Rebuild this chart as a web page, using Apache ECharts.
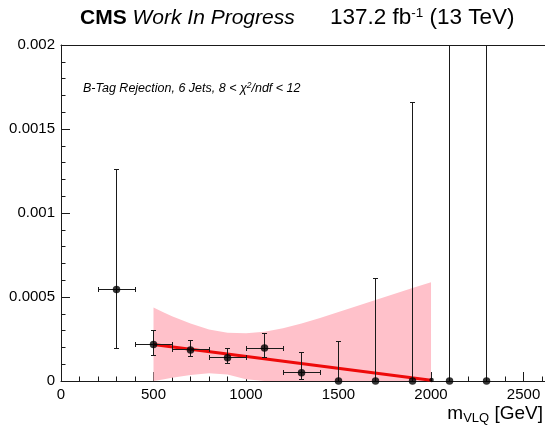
<!DOCTYPE html>
<html>
<head>
<meta charset="utf-8">
<script src="https://cdn.jsdelivr.net/npm/echarts@6/dist/echarts.min.js"></script>
<style>
html, body { margin: 0; padding: 0; background: #fff; }
#chart { width: 545px; height: 427px; }
</style>
</head>
<body>
<div id="chart"></div>
<script>
// Binned measurement: bin centre, value, horizontal half-width, lower/upper error bounds
const binCenters   = [300, 500, 700, 900, 1100, 1300, 1500, 1700, 1900, 2100, 2300];
const binValues    = [0.000544, 0.000217, 0.000185, 0.000138, 0.000196, 0.000049, 0, 0, 0, 0, 0];
const binHalfWidth = [100, 100, 100, 100, 100, 100, 0, 0, 0, 0, 0];
const errLow       = [0.000191, 0.000152, 0.000144, 0.000102, 0.000141, 0.000009, 0, 0, 0, 0, 0];
const errHigh      = [0.001257, 0.000302, 0.000243, 0.000193, 0.000282, 0.000168, 0.000233, 0.000613, 0.001655, 0.0035, 0.0035];

// Small marker sitting at the end of the fit range
const edgeX = [2003];
const edgeY = [0.000006];

// Linear fit
const fitX = [500, 2000];
const fitY = [0.000217, 0.000005];

// Fit uncertainty band
const bandX     = [500, 550, 600, 700, 800, 900, 1000, 1100, 1200, 1300, 1400, 1500, 1600, 1700, 1800, 1900, 2000];
const bandUpper = [0.000437, 0.000410, 0.000386, 0.000342, 0.000306, 0.000287, 0.000284, 0.000293, 0.000314,
                   0.000343, 0.000375, 0.000410, 0.000446, 0.000482, 0.000518, 0.000553, 0.000588];
const bandLower = [0, 0.000009, 0.000020, 0.000036, 0.000046, 0.000038, 0.000011, 0, 0,
                   0, 0, 0, 0, 0, 0, 0, 0];

// Axis ticks and labels
const xTicks = [0, 500, 1000, 1500, 2000, 2500];
const yTicks = [0, 0.0005, 0.001, 0.0015, 0.002];
const yTickLabels = ['0', '0.0005', '0.001', '0.0015', '0.002'];

const X_MAX = 2616;
const FONT = '"Liberation Sans", Arial, Helvetica, sans-serif';
const INK = '#1a1a1a';

const chart = echarts.init(document.getElementById('chart'), null, { renderer: 'canvas' });

function px(v) { return Math.round(v - 0.5) + 0.5; }

function line(x1, y1, x2, y2) {
  return {
    type: 'line',
    shape: { x1: x1, y1: y1, x2: x2, y2: y2 },
    style: { stroke: INK, lineWidth: 1 }
  };
}

const option = {
  animation: false,
  backgroundColor: '#fff',
  grid: { left: 61, right: 0, top: 45, bottom: 46, containLabel: false },
  xAxis: [
    {
      type: 'value', min: 0, max: X_MAX, interval: 500, position: 'bottom',
      axisLine: { show: true, onZero: false, lineStyle: { color: INK, width: 1 } },
      axisTick: { show: true, inside: true, length: 9, lineStyle: { color: INK } },
      axisLabel: {
        show: true, margin: 6, color: '#000', fontSize: 15, fontFamily: FONT,
        showMaxLabel: false,
        formatter: function (v) { return xTicks.indexOf(v) >= 0 ? String(v) : ''; }
      },
      splitLine: { show: false }
    },
    {
      // minor ticks every 100 GeV
      type: 'value', min: 0, max: X_MAX, interval: 100, position: 'bottom',
      axisLine: { show: false },
      axisTick: { show: true, inside: true, length: 4.5, lineStyle: { color: INK } },
      axisLabel: { show: false },
      splitLine: { show: false }
    },
    {
      // upper frame line
      type: 'value', min: 0, max: X_MAX, position: 'top',
      axisLine: { show: true, onZero: false, lineStyle: { color: INK, width: 1 } },
      axisTick: { show: false }, axisLabel: { show: false }, splitLine: { show: false }
    }
  ],
  yAxis: {
    type: 'value', min: 0, max: 0.002, interval: 0.0005,
    axisLine: { show: true, onZero: false, lineStyle: { color: INK, width: 1 } },
    axisTick: { show: true, inside: true, length: 9, lineStyle: { color: INK } },
    minorTick: { show: true, splitNumber: 5, length: 4.5, lineStyle: { color: INK } },
    axisLabel: {
      margin: 6, color: '#000', fontSize: 15, fontFamily: FONT,
      formatter: function (v) {
        for (let i = 0; i < yTicks.length; i++) {
          if (Math.abs(v - yTicks[i]) < 1e-9) return yTickLabels[i];
        }
        return '';
      }
    },
    splitLine: { show: false },
    minorSplitLine: { show: false }
  },
  series: [
    {
      // uncertainty band as one polygon
      type: 'custom',
      clip: true,
      z: 1,
      data: bandX.map(function (x, i) { return [x, bandLower[i], bandUpper[i]]; }),
      renderItem: function (params, api) {
        if (params.dataIndex !== 0) return null;
        const pts = [];
        for (let i = 0; i < bandX.length; i++) pts.push(api.coord([bandX[i], bandUpper[i]]));
        for (let i = bandX.length - 1; i >= 0; i--) pts.push(api.coord([bandX[i], bandLower[i]]));
        return {
          type: 'polygon',
          shape: { points: pts },
          style: { fill: '#ffc1ca', stroke: null }
        };
      }
    },
    {
      type: 'line',
      z: 2,
      data: fitX.map(function (x, i) { return [x, fitY[i]]; }),
      symbol: 'none',
      lineStyle: { color: '#ee0a0a', width: 3 },
      clip: true
    },
    {
      // error bars with end caps
      type: 'custom',
      clip: true,
      z: 3,
      data: binCenters.map(function (x, i) {
        return [x, binValues[i], binHalfWidth[i], errLow[i], errHigh[i]];
      }),
      renderItem: function (params, api) {
        const x = api.value(0), y = api.value(1), hw = api.value(2);
        const lo = api.value(3), hi = api.value(4);
        const c = api.coord([x, y]);
        const pLo = api.coord([x, lo]);
        const pHi = api.coord([x, hi]);
        const cx = px(c[0]), cy = px(c[1]);
        const cap = 2.5;
        const kids = [];
        kids.push(line(cx, pLo[1], cx, pHi[1]));
        kids.push(line(cx - cap, px(pHi[1]), cx + cap, px(pHi[1])));
        if (lo < y) kids.push(line(cx - cap, px(pLo[1]), cx + cap, px(pLo[1])));
        if (hw > 0) {
          const l = api.coord([x - hw, y])[0];
          const r = api.coord([x + hw, y])[0];
          kids.push(line(l, cy, r, cy));
          kids.push(line(px(l), cy - cap, px(l), cy + cap));
          kids.push(line(px(r), cy - cap, px(r), cy + cap));
        }
        return { type: 'group', children: kids };
      }
    },
    {
      type: 'scatter',
      z: 4,
      clip: false,
      symbol: 'circle',
      symbolSize: 7.5,
      itemStyle: { color: '#000' },
      data: binCenters.map(function (x, i) { return [x, binValues[i]]; })
    },
    {
      type: 'scatter',
      z: 4,
      clip: false,
      symbol: 'circle',
      symbolSize: 4.5,
      itemStyle: { color: '#000' },
      data: edgeX.map(function (x, i) { return [x, edgeY[i]]; })
    }
  ],
  graphic: [
    {
      type: 'text', left: 80, top: 8,
      style: {
        text: '{b|CMS} {i|Work In Progress}',
        rich: {
          b: { fontFamily: FONT, fontSize: 21, fontWeight: 'bold', fill: '#000' },
          i: { fontFamily: FONT, fontSize: 21, fontStyle: 'italic', fill: '#000' }
        },
        font: '21px ' + FONT
      }
    },
    {
      type: 'text', left: 330, top: 6,
      style: {
        text: '{n|137.2 fb}{s|-1}{n| (13 TeV)}',
        rich: {
          n: { fontFamily: FONT, fontSize: 22.5, fill: '#000' },
          s: { fontFamily: FONT, fontSize: 13.5, fill: '#000', padding: [0, 0, 10, 0] }
        }
      }
    },
    {
      type: 'text', left: 83, top: 81,
      style: {
        text: '{t|B-Tag Rejection, 6 Jets, 8 < χ}{s|2}{t|/ndf < 12}',
        rich: {
          t: { fontFamily: FONT, fontSize: 12.5, fontStyle: 'italic', fill: '#000' },
          s: { fontFamily: FONT, fontSize: 8.5, fontStyle: 'italic', fill: '#000', padding: [0, 0, 7, 0] }
        }
      }
    },
    {
      type: 'text', right: 2, top: 404,
      style: {
        text: '{n|m}{s|VLQ}{n| [GeV]}',
        rich: {
          n: { fontFamily: FONT, fontSize: 19, fill: '#000' },
          s: { fontFamily: FONT, fontSize: 13, fill: '#000', padding: [9, 0, 0, 0] }
        }
      }
    }
  ]
};

chart.setOption(option);
</script>
</body>
</html>
